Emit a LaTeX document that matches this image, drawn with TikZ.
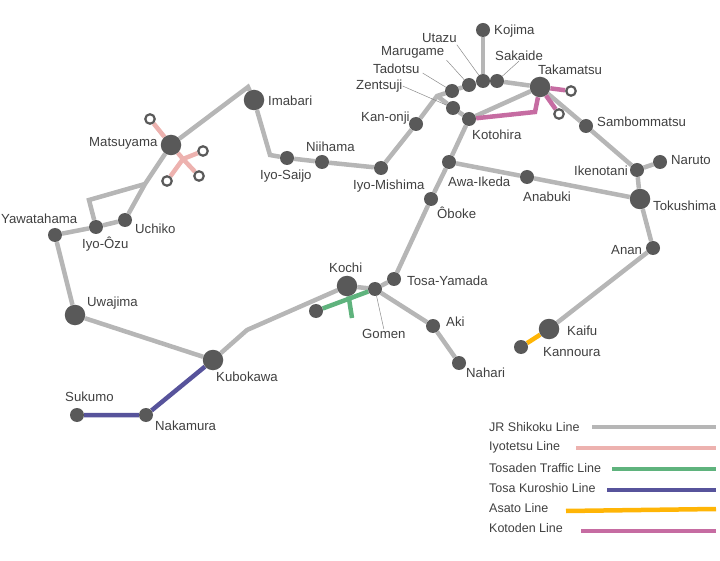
\documentclass[tikz,border=0pt]{standalone}
\usepackage{fontspec}
\setmainfont{Liberation Sans}
\usepackage{xcolor}
\definecolor{railGray}{HTML}{B6B6B6}
\definecolor{railPink}{HTML}{EDB2AF}
\definecolor{railGreen}{HTML}{5FB37D}
\definecolor{railBlue}{HTML}{57539B}
\definecolor{railAmber}{HTML}{FFB506}
\definecolor{railMagenta}{HTML}{C66CA2}
\definecolor{stopDark}{HTML}{595959}
\definecolor{textDark}{HTML}{404040}
\usetikzlibrary{backgrounds}
\tikzset{
    stop/.style={
        circle,
        fill=stopDark,
        inner sep=0pt,
        minimum size=14pt
    },
    bigstop/.style={
        stop,
        minimum size=20.5pt
    },
    openstop/.style={
        circle,
        draw=stopDark,
        fill=white,
        line width=2.2pt,
        inner sep=0pt,
        minimum size=9.5pt
    },
    label/.style={
        anchor=west,
        inner sep=0pt,
        yshift=-1pt,
        text=textDark,
        font=\fontsize{13.2}{15}\selectfont
    },
    legendlabel/.style={
        label,
        font=\fontsize{12.5}{14}\selectfont
    },
    leader/.style={
        draw=stopDark!70,
        line width=0.5pt
    },
    jr/.style={draw=railGray, line width=4.5pt, line join=miter},
    iyotetsu/.style={draw=railPink, line width=4.5pt},
    tosaden/.style={draw=railGreen, line width=4.5pt},
    kuroshio/.style={draw=railBlue, line width=4.5pt},
    asato/.style={draw=railAmber, line width=4.5pt},
    kotoden/.style={draw=railMagenta, line width=4.5pt}
}

\begin{document}
\begin{tikzpicture}[x=1pt, y=-1pt]
    \useasboundingbox (0,0) rectangle (720,561);

    % Kagawa stations
    \node[stop] (kojima) at (483,30) {};
    \node[stop] (utazu) at (483,81) {};
    \node[stop] (sakaide) at (497,81) {};
    \node[stop] (marugame) at (469,85) {};
    \node[stop] (tadotsu) at (452,91) {};
    \node[stop] (zentsuji) at (453,108) {};
    \node[stop] (kotohira) at (469,119) {};
    \node[stop] (kanonji) at (416,124) {};
    \node[bigstop] (takamatsu) at (540,87) {};
    \node[openstop] (kotoEast) at (571,91) {};
    \node[openstop] (kotoSouth) at (559,114) {};

    % Tokushima stations
    \node[stop] (sambommatsu) at (586,126) {};
    \node[stop] (ikenotani) at (637,170) {};
    \node[stop] (naruto) at (660,162) {};
    \node[bigstop] (tokushima) at (640,199) {};
    \node[stop] (anabuki) at (527,177) {};
    \node[stop] (awaikeda) at (449,162) {};
    \node[stop] (anan) at (653,248) {};
    \node[bigstop] (kaifu) at (549,329) {};
    \node[stop] (kannoura) at (521,347) {};

    % Ehime stations
    \node[bigstop] (imabari) at (254,100) {};
    \node[stop] (iyosaijo) at (287,158) {};
    \node[stop] (niihama) at (322,162) {};
    \node[stop] (iyomishima) at (381,168) {};
    \node[bigstop] (matsuyama) at (171,145) {};
    \node[openstop] (iyoNorth) at (150,119) {};
    \node[openstop] (iyoEast) at (203,151) {};
    \node[openstop] (iyoSouth) at (199,176) {};
    \node[openstop] (iyoWest) at (167,181) {};
    \node[stop] (uchiko) at (125,220) {};
    \node[stop] (iyoozu) at (96,227) {};
    \node[stop] (yawatahama) at (55,235) {};
    \node[bigstop] (uwajima) at (75,315) {};

    % Kochi stations
    \node[stop] (oboke) at (431,199) {};
    \node[stop] (tosayamada) at (394,279) {};
    \node[stop] (gomen) at (375,289) {};
    \node[bigstop] (kochi) at (347,286) {};
    \node[stop] (tosadenWest) at (316,311) {};
    \node[stop] (aki) at (433,326) {};
    \node[stop] (nahari) at (459,363) {};
    \node[bigstop] (kubokawa) at (213,360) {};
    \node[stop] (nakamura) at (146,415) {};
    \node[stop] (sukumo) at (77,415) {};

    % Bends and crossings of the lines
    \coordinate (bendTadotsu) at (437,96);
    \coordinate (bendSaijo) at (270,155);
    \coordinate (bendImabari) at (248,87);
    \coordinate (forkOzu) at (145,184);
    \coordinate (bendOzu) at (89,200);
    \coordinate (bendKubokawa) at (247,330);
    \coordinate (bendKotoden) at (535,112);
    \coordinate (crossIyotetsu) at (183,159);
    \coordinate (endTosaden) at (352,318);

    % Station names
    \node[label] (lblKojima) at (494,30) {Kojima};
    \node[label] (lblUtazu) at (422,37) {Utazu};
    \node[label] (lblMarugame) at (381,51) {Marugame};
    \node[label] (lblSakaide) at (495,55) {Sakaide};
    \node[label] (lblTadotsu) at (373,68) {Tadotsu};
    \node[label] (lblTakamatsu) at (538,69) {Takamatsu};
    \node[label] (lblZentsuji) at (356,85) {Zentsuji};
    \node[label] (lblKanonji) at (361,117) {Kan-onji};
    \node[label] (lblKotohira) at (472,134) {Kotohira};
    \node[label] (lblImabari) at (268,100) {Imabari};
    \node[label] (lblSambommatsu) at (597,121) {Sambommatsu};
    \node[label] (lblMatsuyama) at (89,142) {Matsuyama};
    \node[label] (lblNiihama) at (306,146) {Niihama};
    \node[label] (lblNaruto) at (671,159) {Naruto};
    \node[label] (lblIkenotani) at (574,170) {Ikenotani};
    \node[label] (lblIyosaijo) at (260,175) {Iyo-Saijo};
    \node[label] (lblAwaikeda) at (448,181) {Awa-Ikeda};
    \node[label] (lblIyomishima) at (353,185) {Iyo-Mishima};
    \node[label] (lblAnabuki) at (523,196) {Anabuki};
    \node[label] (lblTokushima) at (653,205) {Tokushima};
    \node[label] (lblOboke) at (437,212) {Ôboke};
    \node[label] (lblUchiko) at (135,228) {Uchiko};
    \node[label] (lblYawatahama) at (1,218) {Yawatahama};
    \node[label] (lblIyoozu) at (82,243) {Iyo-Ôzu};
    \node[label] (lblAnan) at (611,249) {Anan};
    \node[label] (lblKochi) at (329,267) {Kochi};
    \node[label] (lblTosayamada) at (407,280) {Tosa-Yamada};
    \node[label] (lblUwajima) at (87,302) {Uwajima};
    \node[label] (lblGomen) at (362,333) {Gomen};
    \node[label] (lblAki) at (446,321) {Aki};
    \node[label] (lblKaifu) at (567,330) {Kaifu};
    \node[label] (lblKannoura) at (543,351) {Kannoura};
    \node[label] (lblNahari) at (466,372) {Nahari};
    \node[label] (lblKubokawa) at (216,376) {Kubokawa};
    \node[label] (lblSukumo) at (65,396) {Sukumo};
    \node[label] (lblNakamura) at (155,425) {Nakamura};

    % Legend
    \node[legendlabel] (legJr) at (489,426) {JR Shikoku Line};
    \node[legendlabel] (legIyotetsu) at (489,446) {Iyotetsu Line};
    \node[legendlabel] (legTosaden) at (489,467) {Tosaden Traffic Line};
    \node[legendlabel] (legKuroshio) at (489,487) {Tosa Kuroshio Line};
    \node[legendlabel] (legAsato) at (489,507) {Asato Line};
    \node[legendlabel] (legKotoden) at (489,527) {Kotoden Line};
    \coordinate (legJrA) at (592,427);
    \coordinate (legJrB) at (716,427);
    \coordinate (legIyotetsuA) at (576,448);
    \coordinate (legIyotetsuB) at (716,448);
    \coordinate (legTosadenA) at (612,469);
    \coordinate (legTosadenB) at (716,469);
    \coordinate (legKuroshioA) at (607,490);
    \coordinate (legKuroshioB) at (716,490);
    \coordinate (legAsatoA) at (566,511);
    \coordinate (legAsatoB) at (716,509);
    \coordinate (legKotodenA) at (581,531);
    \coordinate (legKotodenB) at (716,531);
    \draw[jr] (legJrA) -- (legJrB);
    \draw[iyotetsu] (legIyotetsuA) -- (legIyotetsuB);
    \draw[tosaden] (legTosadenA) -- (legTosadenB);
    \draw[kuroshio] (legKuroshioA) -- (legKuroshioB);
    \draw[asato] (legAsatoA) -- (legAsatoB);
    \draw[kotoden] (legKotodenA) -- (legKotodenB);

    \begin{scope}[on background layer]
        % JR lines
        \draw[jr] (kojima) -- (utazu);
        \draw[jr] (tadotsu) -- (marugame) -- (utazu) -- (sakaide) -- (takamatsu);
        \draw[jr] (tadotsu) -- (bendTadotsu) -- (kanonji) -- (iyomishima) -- (niihama) -- (iyosaijo) -- (bendSaijo) -- (imabari);
        \draw[jr] (imabari) -- (bendImabari) -- (matsuyama) -- (forkOzu) -- (uchiko) -- (iyoozu) -- (yawatahama) -- (uwajima) -- (kubokawa);
        \draw[jr] (forkOzu) -- (bendOzu) -- (iyoozu);
        \draw[jr] (kubokawa) -- (bendKubokawa) -- (kochi) -- (gomen) -- (tosayamada) -- (oboke) -- (awaikeda) -- (kotohira) -- (zentsuji) -- (bendTadotsu);
        \draw[jr] (kotohira) -- (takamatsu) -- (sambommatsu) -- (ikenotani) -- (tokushima) -- (anan) -- (kaifu);
        \draw[jr] (ikenotani) -- (naruto);
        \draw[jr] (awaikeda) -- (anabuki) -- (tokushima);
        \draw[jr] (gomen) -- (aki) -- (nahari);

        % Private lines
        \draw[iyotetsu] (matsuyama) -- (iyoNorth);
        \draw[iyotetsu] (matsuyama) -- (crossIyotetsu) -- (iyoSouth);
        \draw[iyotetsu] (iyoEast) -- (crossIyotetsu) -- (iyoWest);
        \draw[tosaden] (tosadenWest) -- (gomen);
        \draw[tosaden] (kochi) -- (endTosaden);
        \draw[kuroshio] (kubokawa) -- (nakamura) -- (sukumo);
        \draw[asato] (kaifu) -- (kannoura);
        \draw[kotoden] (kotohira) -- (bendKotoden) -- (takamatsu);
        \draw[kotoden] (takamatsu) -- (kotoEast);
        \draw[kotoden] (takamatsu) -- (kotoSouth);

        % Leaders from names to stations
        \draw[leader] ([shift={(0pt,-2pt)}]lblUtazu.south east) -- (utazu);
        \draw[leader] ([shift={(2pt,-2pt)}]lblMarugame.south east) -- (marugame);
        \draw[leader] ([shift={(3pt,1pt)}]lblTadotsu.south east) -- (tadotsu);
        \draw[leader] (lblZentsuji.east) -- (zentsuji);
        \draw[leader] (lblSakaide.south) -- (sakaide);
        \draw[leader] (lblGomen.north) -- (gomen);
    \end{scope}
\end{tikzpicture}
\end{document}
